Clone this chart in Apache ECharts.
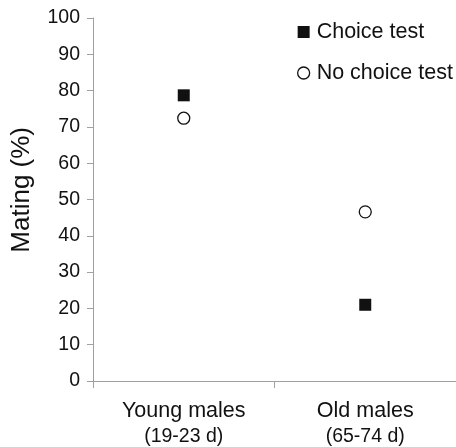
<!DOCTYPE html>
<html>
<head>
<meta charset="utf-8">
<script src="https://cdn.jsdelivr.net/npm/echarts@6/dist/echarts.min.js"></script>
<style>
  html, body { margin: 0; padding: 0; background: #fff; }
  #chart { width: 456px; height: 447px; }
</style>
</head>
<body>
<div id="chart"></div>
<script>
// data
const groups = ['Young males', 'Old males'];
const ages = ['(19-23 d)', '(65-74 d)'];
const choiceTest = [78.7, 21.0];
const noChoiceTest = [72.4, 46.6];
const yTicks = [0, 10, 20, 30, 40, 50, 60, 70, 80, 90, 100];

const font = 'Liberation Sans, Arial, sans-serif';
const myChart = echarts.init(document.getElementById('chart'));

const option = {
  animation: false,
  textStyle: { fontFamily: font, color: '#111' },
  grid: { left: 93, top: 18, width: 370, height: 364 },
  legend: {
    orient: 'vertical',
    left: 292,
    top: 16,
    itemWidth: 12,
    itemHeight: 12,
    itemGap: 19,
    textStyle: { fontSize: 21.5, color: '#111', fontFamily: font, lineHeight: 21, padding: [0, 0, 0, 2] },
    data: [
      { name: 'Choice test', icon: 'rect', itemStyle: { color: '#111', borderWidth: 0 } },
      { name: 'No choice test', icon: 'circle', itemStyle: { color: '#fff', borderColor: '#111', borderWidth: 1.3 } }
    ]
  },
  xAxis: {
    type: 'category',
    data: groups,
    boundaryGap: true,
    axisLine: { lineStyle: { color: '#a0a0a0', width: 1 } },
    axisTick: { show: true, length: 7, lineStyle: { color: '#a0a0a0' } },
    axisLabel: {
      margin: 17,
      interval: 0,
      formatter: function (v, i) {
        return '{a|' + v + '}\n{b|' + ages[i] + '}';
      },
      rich: {
        a: { fontSize: 21.5, fontFamily: font, color: '#111', lineHeight: 26 },
        b: { fontSize: 19.5, fontFamily: font, color: '#111', lineHeight: 26 }
      }
    },
    splitLine: { show: false }
  },
  yAxis: {
    type: 'value',
    min: yTicks[0],
    max: yTicks[yTicks.length - 1],
    interval: 10,
    axisLine: { show: true, lineStyle: { color: '#a0a0a0', width: 1 } },
    axisTick: { show: true, length: 6, lineStyle: { color: '#a0a0a0' } },
    axisLabel: { fontSize: 19.5, fontFamily: font, color: '#111', margin: 13 },
    splitLine: { show: false }
  },
  graphic: [{
    type: 'text',
    left: 9,
    top: 127,
    rotation: Math.PI / 2,
    style: { text: 'Mating (%)', fontSize: 26, fontFamily: font, fill: '#111' }
  }],
  series: [
    {
      name: 'Choice test',
      type: 'scatter',
      symbol: 'rect',
      symbolSize: 12,
      itemStyle: { color: '#111', opacity: 1 },
      data: choiceTest
    },
    {
      name: 'No choice test',
      type: 'scatter',
      symbol: 'circle',
      symbolSize: 12,
      itemStyle: { color: '#fff', borderColor: '#111', borderWidth: 1.3, opacity: 1 },
      data: noChoiceTest
    }
  ]
};
myChart.setOption(option);
</script>
</body>
</html>
